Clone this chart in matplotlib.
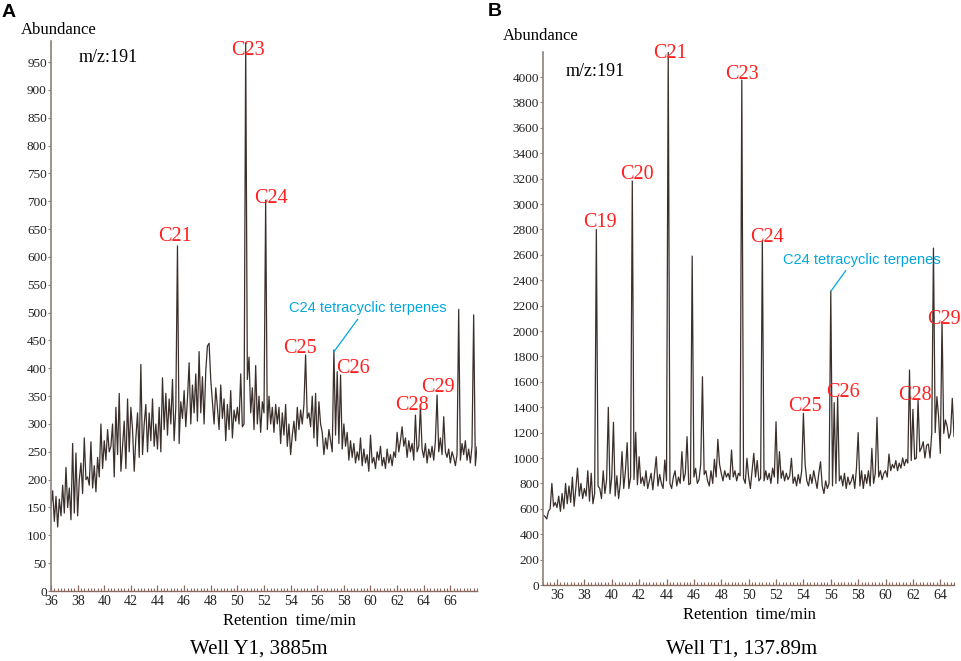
import numpy as np
import matplotlib
matplotlib.use('Agg')
from matplotlib import pyplot as plt
from matplotlib.ticker import MultipleLocator

# m/z 191 traces, sampled every 0.125 min
step = 0.125
y1_start = 36.0
t1_start = 35.0

# Well Y1, 3885m (one row per minute, 36 ... 67, last value at 68)
y1_abundance = [
    150, 180, 125, 170, 115, 165, 135, 190,
    140, 222, 150, 185, 128, 265, 140, 248,
    135, 200, 230, 175, 275, 200, 205, 190,
    268, 185, 225, 178, 240, 205, 300, 220,
    270, 235, 290, 250, 260, 300, 205, 330,
    245, 355, 215, 260, 305, 220, 345, 250,
    330, 290, 215, 275, 320, 240, 407, 245,
    300, 335, 250, 320, 270, 345, 260, 300,
    255, 330, 250, 383, 290, 355, 280, 345,
    300, 380, 270, 330, 620, 265, 340, 310,
    360, 295, 345, 410, 300, 370, 320, 390,
    305, 430, 320, 385, 300, 395, 440, 445,
    380, 340, 300, 365, 330, 290, 370, 310,
    345, 270, 335, 290, 360, 275, 325, 305,
    330, 300, 390, 295, 300, 985, 380, 420,
    320, 365, 290, 405, 300, 350, 285, 340,
    320, 702, 290, 350, 300, 330, 285, 335,
    300, 330, 265, 320, 280, 335, 260, 300,
    245, 280, 305, 270, 330, 290, 325, 300,
    335, 424, 310, 320, 295, 350, 275, 355,
    260, 340, 300, 285, 245, 275, 255, 290,
    270, 250, 433, 280, 394, 265, 388, 255,
    300, 260, 285, 235, 270, 240, 265, 230,
    250, 235, 275, 225, 255, 230, 245, 215,
    280, 230, 240, 220, 250, 235, 260, 225,
    240, 220, 255, 230, 245, 225, 250, 240,
    285, 250, 270, 295, 260, 275, 240, 270,
    250, 265, 235, 316, 250, 260, 332, 255,
    240, 265, 230, 255, 240, 260, 235, 270,
    352, 250, 275, 245, 313, 250, 240, 255,
    230, 250, 240, 225, 245, 506, 235, 265,
    245, 270, 235, 255, 230, 260, 496, 225,
    259,
]

# Well T1, 137.89m (one row per minute, 35 ... 64, last value at 65)
t1_abundance = [
    550, 540, 520, 580, 600, 800, 620, 650,
    610, 700, 580, 720, 600, 800, 640, 780,
    650, 850, 620, 760, 920, 700, 800, 680,
    760, 700, 900, 660, 880, 640, 720, 2800,
    780, 760, 680, 900, 720, 830, 1399, 720,
    850, 1281, 700, 860, 680, 800, 1050, 760,
    900, 1121, 760, 850, 3181, 830, 1202, 790,
    1010, 800, 850, 780, 900, 760, 820, 880,
    750, 880, 1010, 780, 870, 800, 760, 984,
    820, 4194, 800, 760, 850, 900, 780, 850,
    800, 1050, 820, 880, 1168, 790, 800, 2590,
    850, 919, 800, 830, 950, 1640, 870, 900,
    820, 780, 900, 800, 990, 850, 1147, 950,
    880, 820, 900, 850, 880, 830, 1063, 850,
    900, 820, 880, 860, 3976, 840, 800, 998,
    850, 760, 900, 1037, 850, 980, 820, 840,
    2709, 820, 900, 830, 880, 800, 920, 850,
    1286, 800, 1050, 840, 900, 820, 880, 830,
    860, 998, 800, 850, 780, 870, 800, 900,
    1352, 950, 820, 780, 870, 800, 900, 830,
    760, 880, 971, 780, 720, 820, 760, 800,
    2315, 780, 1436, 800, 1478, 820, 860, 780,
    880, 760, 850, 790, 820, 870, 760, 920,
    1200, 780, 900, 760, 870, 800, 900, 780,
    1076, 800, 880, 1320, 850, 900, 830, 880,
    900, 850, 1031, 900, 950, 920, 980, 900,
    960, 920, 1000, 940, 990, 960, 1693, 980,
    1383, 990, 1000, 1457, 1050, 1080, 1128, 1000,
    1100, 1110, 1000, 1200, 2653, 1200, 1483, 1325,
    1037, 2074, 1194, 1300, 1250, 1155, 1200, 1470,
    1170,
]

y1_peaks = ['C21', 'C23', 'C24', 'C25', 'C26', 'C28', 'C29']
y1_peak_xy = [(45.3, 636), (50.78, 971), (52.53, 705), (54.68, 435),
              (58.65, 400), (63.08, 334), (65.1, 366)]
t1_peaks = ['C19', 'C20', 'C21', 'C23', 'C24', 'C25', 'C26', 'C28', 'C29']
t1_peak_xy = [(39.12, 2853), (41.87, 3234), (44.24, 4187), (49.49, 4016),
              (51.36, 2740), (54.1, 1404), (56.89, 1514), (62.15, 1496),
              (64.26, 2092)]

serif = ['Liberation Serif', 'DejaVu Serif']
sans = ['Liberation Sans', 'DejaVu Sans']
line_color = '#3b2f2b'
axis_color = '#8c827c'
tick_color = '#8b6a60'
red = '#ff2020'
cyan = '#00a8e0'

fig = plt.figure(figsize=(9.62, 6.61), dpi=100)


def style_axes(ax, xlim, ylim, xfirst, ymajor, xticks_max):
    ax.set_xlim(*xlim)
    ax.set_ylim(*ylim)
    for side in ['top', 'right']:
        ax.spines[side].set_visible(False)
    ax.spines['left'].set_color(axis_color)
    ax.spines['bottom'].set_color(tick_color)
    ax.spines['left'].set_linewidth(1.2)
    ax.spines['bottom'].set_linewidth(1.0)
    ax.set_xticks(np.arange(xfirst, xticks_max + 0.01, 2))
    ax.xaxis.set_minor_locator(MultipleLocator(0.25))
    ax.yaxis.set_major_locator(MultipleLocator(ymajor))
    ax.tick_params(axis='x', which='major', direction='in', length=4,
                   width=0.9, color=tick_color, pad=3, labelsize=10)
    ax.tick_params(axis='x', which='minor', direction='in', length=2.5,
                   width=0.8, color=tick_color)
    ax.tick_params(axis='y', which='major', direction='out', length=2.5,
                   width=0.8, color=axis_color, pad=0.5, labelsize=9.5)
    for lab in ax.get_xticklabels() + ax.get_yticklabels():
        lab.set_family(serif)
        lab.set_color('#222222')


# ---- panel A: Well Y1 ----
ax1 = fig.add_axes([51 / 962, 70 / 661, 426 / 962, 550 / 661])
y1_time = y1_start + step * np.arange(len(y1_abundance))
ax1.plot(y1_time, y1_abundance, color=line_color, lw=0.9)
style_axes(ax1, (36, 68), (0, 988), 36, 50, 66)
for name, (x, y) in zip(y1_peaks, y1_peak_xy):
    ax1.text(x, y, name, color=red, fontsize=14.5, family=serif,
             ha='center', va='center', clip_on=False)
ax1.text(59.78, 508, 'C24 tetracyclic terpenes', color=cyan, fontsize=10.5,
         family=sans, ha='center', va='center')
ax1.plot([59.03, 57.23], [488, 429], color=cyan, lw=0.9)

# ---- panel B: Well T1 ----
ax2 = fig.add_axes([543.3 / 962, 76 / 661, 410.7 / 962, 533 / 661])
t1_time = t1_start + step * np.arange(len(t1_abundance))
ax2.plot(t1_time, t1_abundance, color=line_color, lw=0.9)
style_axes(ax2, (35, 65), (0, 4197), 36, 200, 64)
for name, (x, y) in zip(t1_peaks, t1_peak_xy):
    ax2.text(x, y, name, color=red, fontsize=14.5, family=serif,
             ha='center', va='center', clip_on=False)
ax2.text(58.29, 2559, 'C24 tetracyclic terpenes', color=cyan, fontsize=10.5,
         family=sans, ha='center', va='center', clip_on=False)
ax2.plot([57.09, 56.02], [2475, 2315], color=cyan, lw=0.9)


# ---- figure texts ----
def fig_text(x, y, s, **kw):
    fig.text(x / 962, 1 - y / 661, s, **kw)


fig_text(2, 4, 'A', family=sans, fontsize=14, weight='bold', va='top', ha='left')
fig_text(488, 3, 'B', family=sans, fontsize=14, weight='bold', va='top', ha='left')
fig_text(21, 30, 'Abundance', family=serif, fontsize=12, va='center', ha='left')
fig_text(503, 36, 'Abundance', family=serif, fontsize=12, va='center', ha='left')
fig_text(79, 57, 'm/z:191', family=serif, fontsize=13, va='center', ha='left')
fig_text(566, 71, 'm/z:191', family=serif, fontsize=13, va='center', ha='left')
fig_text(289.5, 621, 'Retention  time/min', family=serif, fontsize=12,
         va='center', ha='center')
fig_text(749, 615, 'Retention  time/min', family=serif, fontsize=12,
         va='center', ha='center')
fig_text(259, 649, 'Well Y1, 3885m', family=serif, fontsize=15,
         va='center', ha='center')
fig_text(742, 649, 'Well T1, 137.89m', family=serif, fontsize=15,
         va='center', ha='center')

fig.savefig('out.png', dpi=100, facecolor='white')
